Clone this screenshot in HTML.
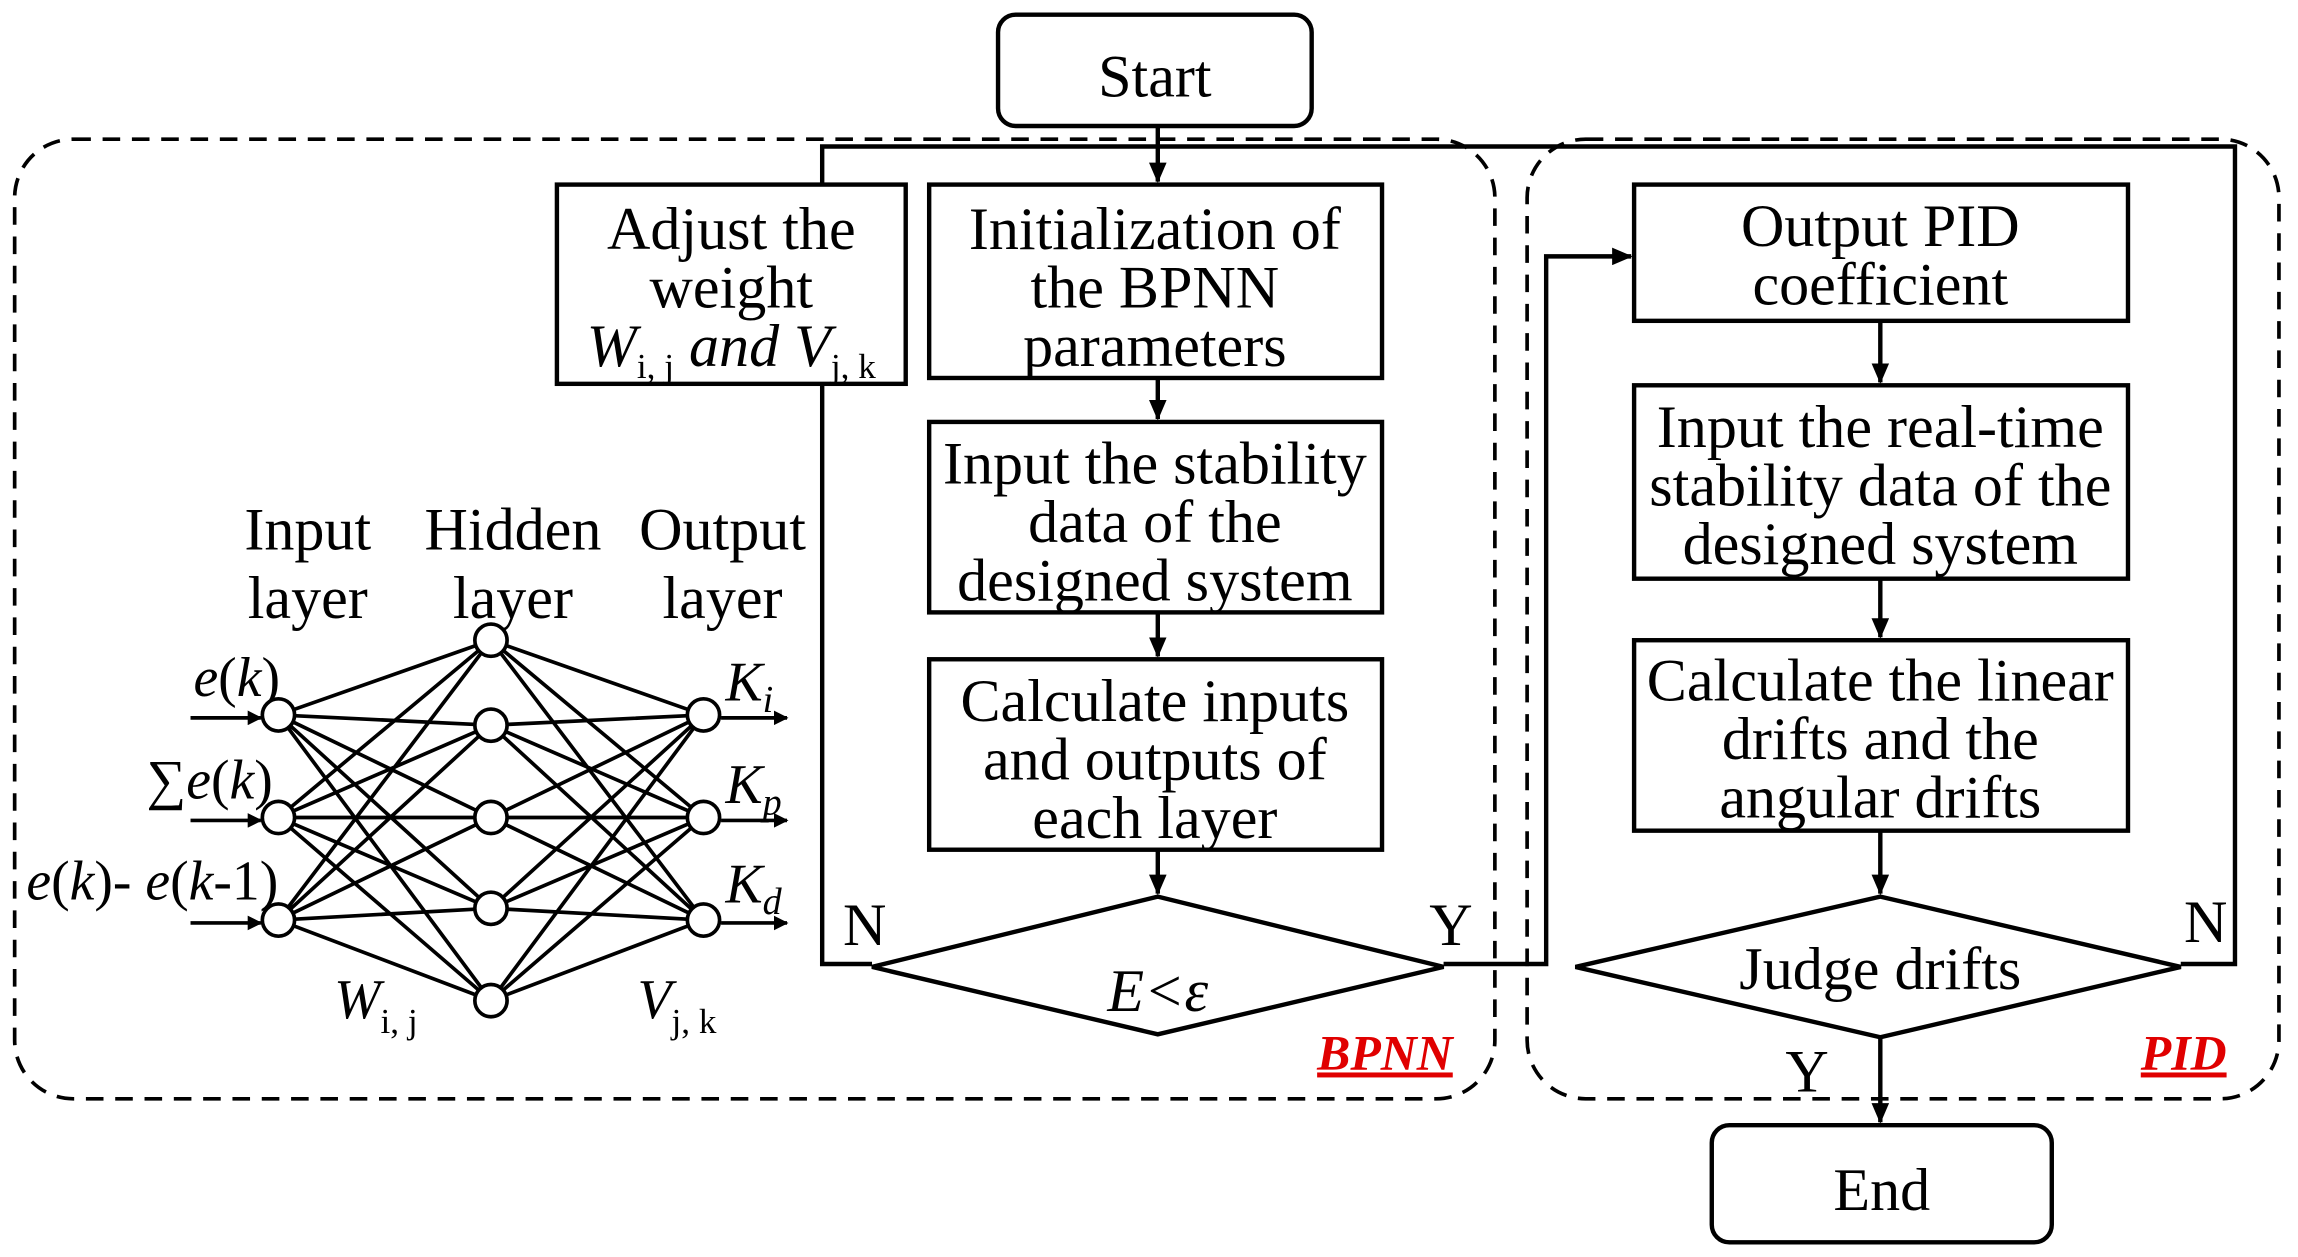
<!DOCTYPE html>
<html><head><meta charset="utf-8"><style>html,body{margin:0;padding:0;background:#fff}svg{display:block}</style></head>
<body>
<svg width="2298" height="1257" viewBox="0 0 1568 858" preserveAspectRatio="none" xmlns="http://www.w3.org/2000/svg" font-family="Liberation Serif, serif" font-size="41">
<defs><marker id="a" markerWidth="10" markerHeight="10" refX="9" refY="5" orient="auto" markerUnits="userSpaceOnUse"><path d="M0,0 L10,5 L0,10 Z" fill="#000"/></marker>
<marker id="b" markerWidth="14" markerHeight="12" refX="13" refY="6" orient="auto" markerUnits="userSpaceOnUse"><path d="M0,0 L14,6 L0,12 Z" fill="#000"/></marker></defs>
<g fill="none" stroke="#000" stroke-width="2.5" stroke-dasharray="12,8">
<rect x="10" y="95" width="1010" height="655" rx="40"/>
<rect x="1042" y="95" width="513" height="655" rx="40"/>
</g>
<g stroke="#000" stroke-width="3" fill="none">
<polyline points="595,658 561,658 561,100 1525,100 1525,658 1488,658"/>
<polyline points="985,658 1055,658 1055,175 1113,175" marker-end="url(#b)"/>
<line x1="790" y1="86" x2="790" y2="124" marker-end="url(#b)"/>
<line x1="790" y1="258" x2="790" y2="286" marker-end="url(#b)"/>
<line x1="790" y1="418" x2="790" y2="448" marker-end="url(#b)"/>
<line x1="790" y1="580" x2="790" y2="610" marker-end="url(#b)"/>
<line x1="1283" y1="219" x2="1283" y2="261" marker-end="url(#b)"/>
<line x1="1283" y1="395" x2="1283" y2="435" marker-end="url(#b)"/>
<line x1="1283" y1="567" x2="1283" y2="610" marker-end="url(#b)"/>
<line x1="1283" y1="708" x2="1283" y2="766" marker-end="url(#b)"/>
</g>
<g stroke="#000" stroke-width="3" fill="#fff">
<rect x="681" y="10" width="214" height="76" rx="12"/>
<rect x="1168" y="768" width="232" height="80" rx="12"/>
<rect x="380" y="126" width="238" height="136"/>
<rect x="634" y="126" width="309" height="132"/>
<rect x="634" y="288" width="309" height="130"/>
<rect x="634" y="450" width="309" height="130"/>
<polygon points="595,660 790,612 985,660 790,706"/>
<rect x="1115" y="126" width="337" height="93"/>
<rect x="1115" y="263" width="337" height="132"/>
<rect x="1115" y="437" width="337" height="130"/>
<polygon points="1075,660 1283,612 1488,660 1283,708"/>
</g>
<g text-anchor="middle" fill="#000">
<text x="788" y="66">Start</text>
<text x="1284" y="826">End</text>
<text x="499" y="170">Adjust the</text>
<text x="499" y="210">weight</text>
<text x="499" y="250" font-style="italic">W<tspan font-size="24" font-style="normal" dy="8">i, j</tspan><tspan dy="-8"> and V</tspan><tspan font-size="24" font-style="normal" dy="8">j, k</tspan></text>
<text x="788" y="170">Initialization of</text>
<text x="788" y="210">the BPNN</text>
<text x="788" y="250">parameters</text>
<text x="788" y="330">Input the stability</text>
<text x="788" y="370">data of the</text>
<text x="788" y="410">designed system</text>
<text x="788" y="492">Calculate inputs</text>
<text x="788" y="532">and outputs of</text>
<text x="788" y="572">each layer</text>
<text x="790" y="690" font-style="italic">E&lt;ε</text>
<text x="1283" y="168">Output PID</text>
<text x="1283" y="208">coefficient</text>
<text x="1283" y="305">Input the real-time</text>
<text x="1283" y="345">stability data of the</text>
<text x="1283" y="385">designed system</text>
<text x="1283" y="478">Calculate the linear</text>
<text x="1283" y="518">drifts and the</text>
<text x="1283" y="558">angular drifts</text>
<text x="1283" y="675">Judge drifts</text>
<text x="590" y="645">N</text>
<text x="990" y="645">Y</text>
<text x="1505" y="643">N</text>
<text x="1233" y="745">Y</text>
<text x="210" y="375">Input</text><text x="210" y="422">layer</text>
<text x="350" y="375">Hidden</text><text x="350" y="422">layer</text>
<text x="493" y="375">Output</text><text x="493" y="422">layer</text>
<g fill="#e00000" font-weight="bold" font-style="italic" font-size="34" text-decoration="underline">
<text x="945" y="730">BPNN</text><text x="1490" y="730">PID</text></g>
</g>
<g stroke="#000" stroke-width="2.5">
<path d="M190,488L335,437M190,488L335,495M190,488L335,558M190,488L335,620M190,488L335,683M190,558L335,437M190,558L335,495M190,558L335,558M190,558L335,620M190,558L335,683M190,628L335,437M190,628L335,495M190,628L335,558M190,628L335,620M190,628L335,683M480,488L335,437M480,488L335,495M480,488L335,558M480,488L335,620M480,488L335,683M480,558L335,437M480,558L335,495M480,558L335,558M480,558L335,620M480,558L335,683M480,628L335,437M480,628L335,495M480,628L335,558M480,628L335,620M480,628L335,683"/>
<line x1="130" y1="490" x2="178" y2="490" marker-end="url(#a)"/>
<line x1="130" y1="560" x2="178" y2="560" marker-end="url(#a)"/>
<line x1="130" y1="630" x2="178" y2="630" marker-end="url(#a)"/>
<line x1="492" y1="490" x2="537" y2="490" marker-end="url(#a)"/>
<line x1="492" y1="560" x2="537" y2="560" marker-end="url(#a)"/>
<line x1="492" y1="630" x2="537" y2="630" marker-end="url(#a)"/>
<g fill="#fff">
<circle cx="190" cy="488" r="11"/><circle cx="190" cy="558" r="11"/><circle cx="190" cy="628" r="11"/>
<circle cx="335" cy="437" r="11"/><circle cx="335" cy="495" r="11"/><circle cx="335" cy="558" r="11"/><circle cx="335" cy="620" r="11"/><circle cx="335" cy="683" r="11"/>
<circle cx="480" cy="488" r="11"/><circle cx="480" cy="558" r="11"/><circle cx="480" cy="628" r="11"/>
</g></g>
<g fill="#000" font-size="38">
<text x="132" y="475"><tspan font-style="italic">e</tspan>(<tspan font-style="italic">k</tspan>)</text>
<text x="100" y="545">∑<tspan font-style="italic">e</tspan>(<tspan font-style="italic">k</tspan>)</text>
<text x="18" y="614"><tspan font-style="italic">e</tspan>(<tspan font-style="italic">k</tspan>)- <tspan font-style="italic">e</tspan>(<tspan font-style="italic">k</tspan>-1)</text>
<text x="495" y="478" font-style="italic">K<tspan font-size="26" dy="8">i</tspan></text>
<text x="495" y="548" font-style="italic">K<tspan font-size="26" dy="8">p</tspan></text>
<text x="495" y="616" font-style="italic">K<tspan font-size="26" dy="8">d</tspan></text>
<text x="228" y="695" font-style="italic">W<tspan font-size="24" font-style="normal" dy="10">i, j</tspan></text>
<text x="435" y="695" font-style="italic">V<tspan font-size="24" font-style="normal" dy="10">j, k</tspan></text>
</g>
</svg>
</body></html>
